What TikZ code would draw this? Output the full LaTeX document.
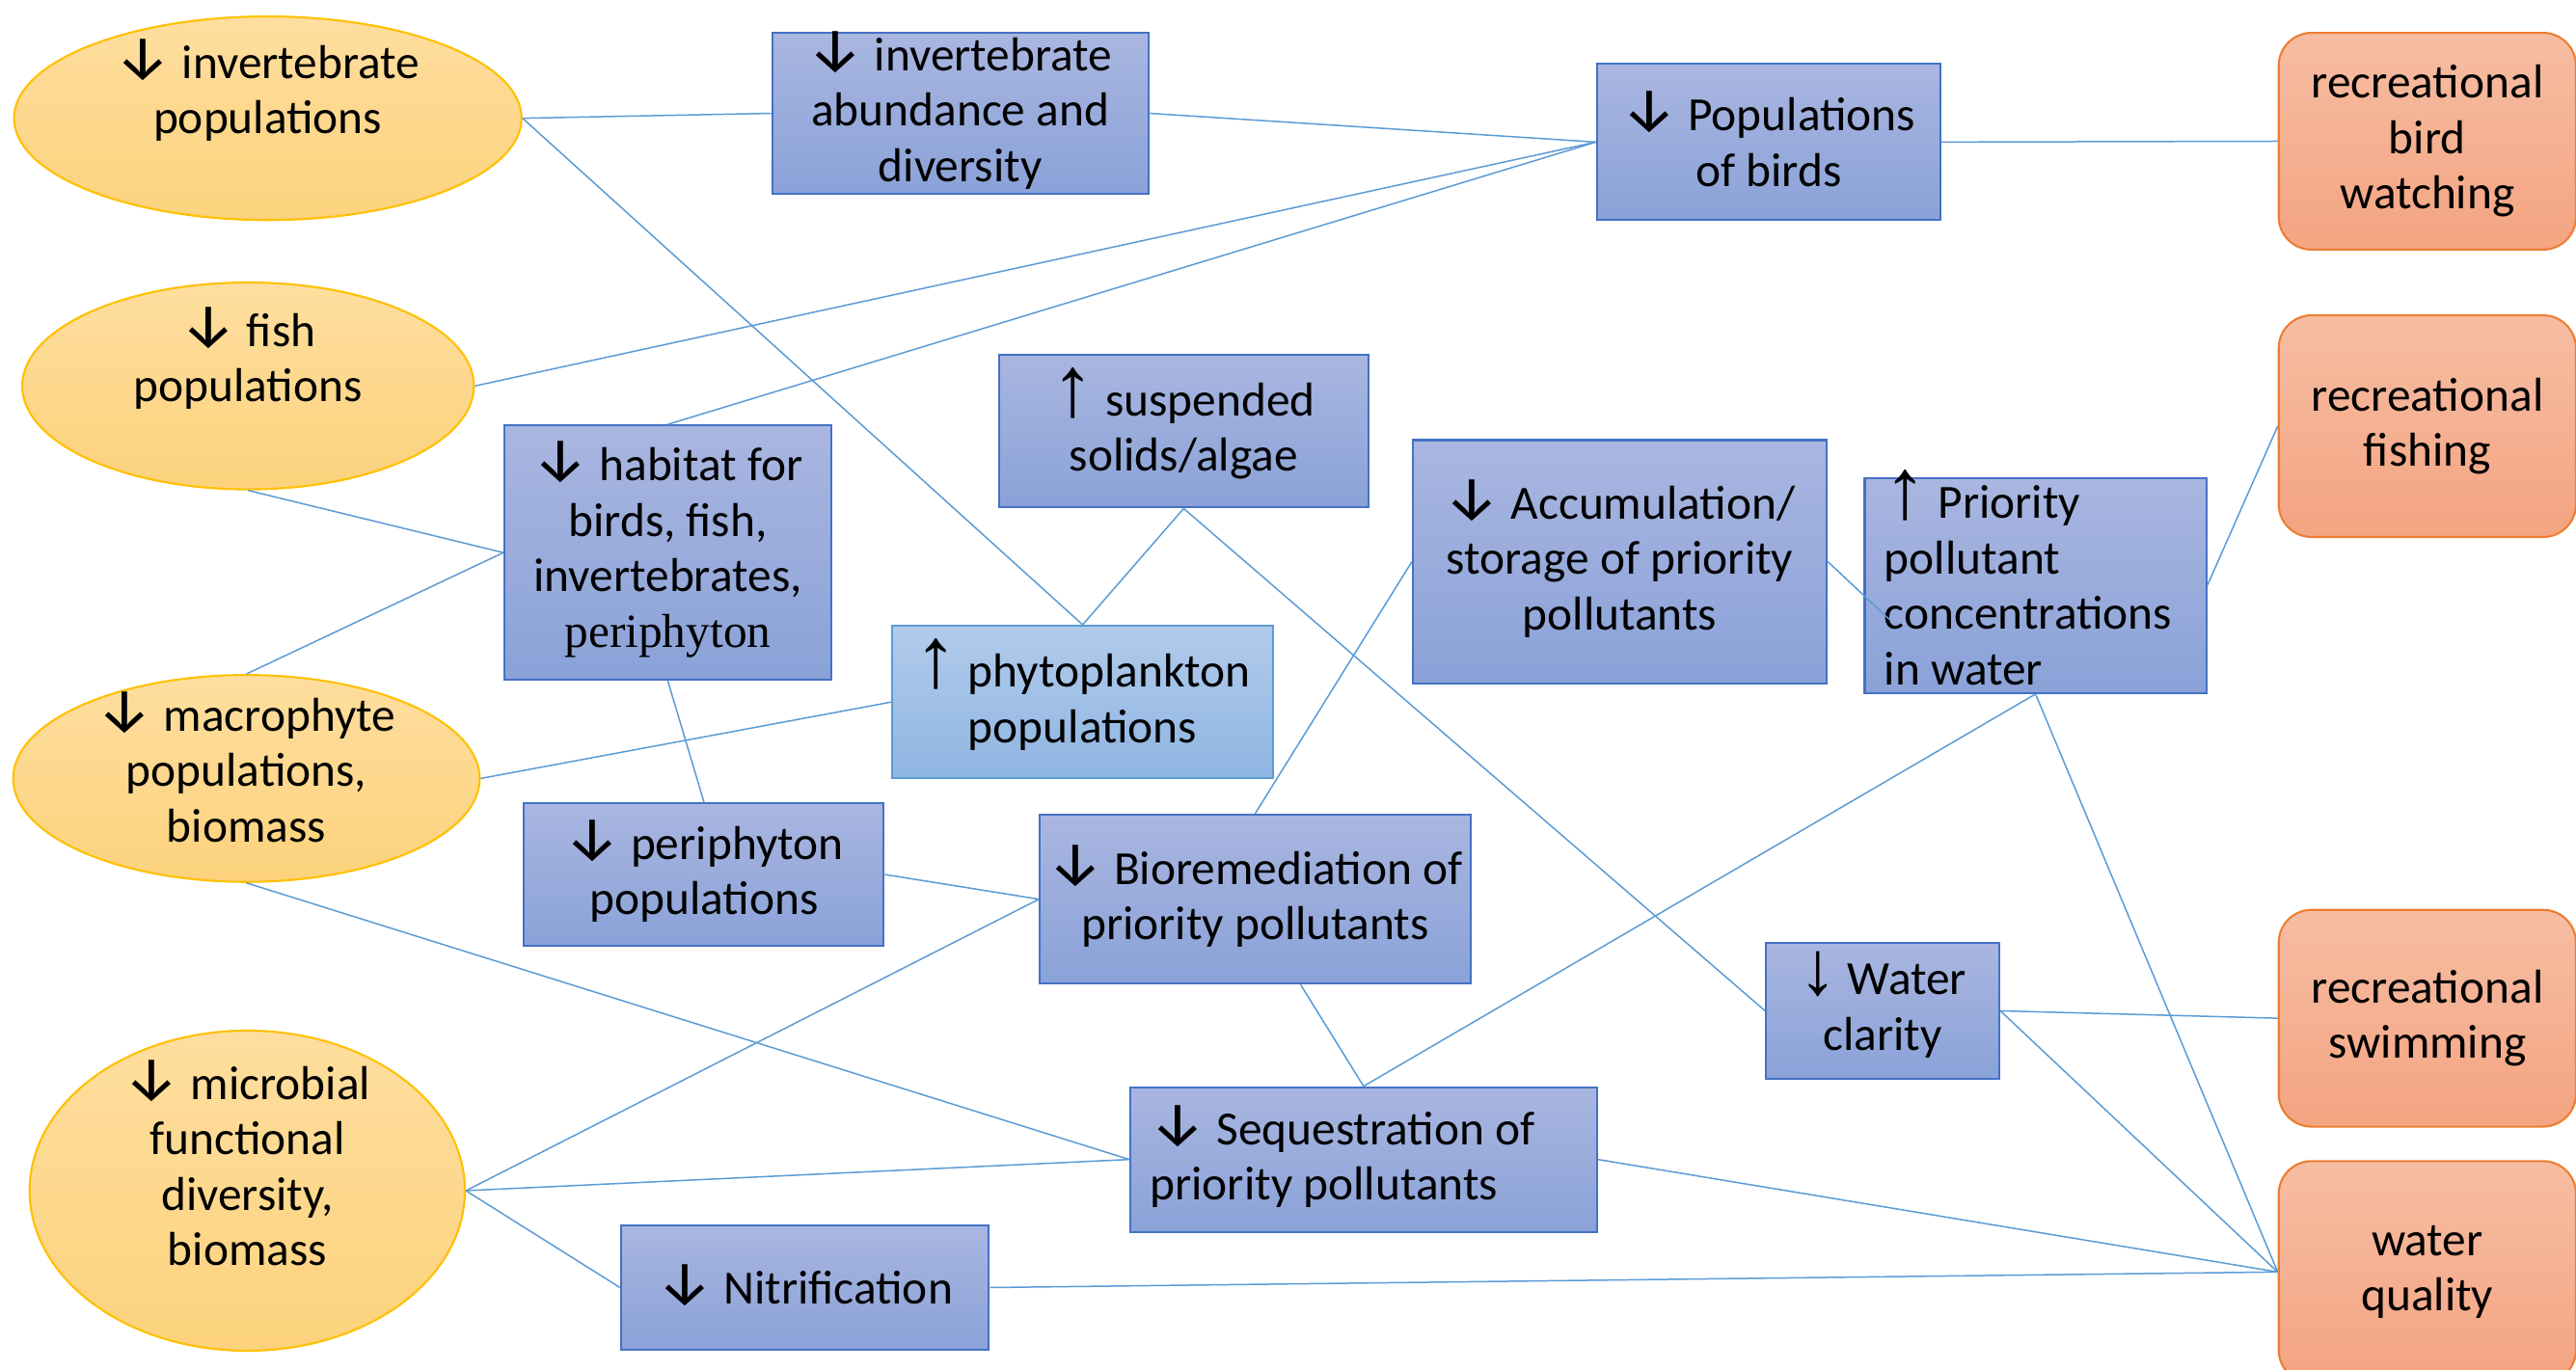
\documentclass[tikz,border=0pt]{standalone}
\usepackage{fontspec}
\setmainfont{Carlito}
\newfontfamily\arrowfont[Scale=1.3]{Fira Sans}
\newfontfamily\thinarrowfont[Scale=1.8]{Liberation Sans}
\newfontfamily\thindnfont[Scale=1.6]{Liberation Serif}
\newfontfamily\timesfont{Liberation Serif}
\usetikzlibrary{positioning,shapes,calc}

\definecolor{popedge}{HTML}{FFC000}
\definecolor{poptop}{HTML}{FEDE9F}
\definecolor{popbot}{HTML}{FCD27C}
\definecolor{boxedge}{HTML}{4472C4}
\definecolor{boxtop}{HTML}{A9B6E0}
\definecolor{boxbot}{HTML}{8AA2D8}
\definecolor{phytoedge}{HTML}{5B9BD5}
\definecolor{phytotop}{HTML}{B1CBEB}
\definecolor{phytobot}{HTML}{8FB5E2}
\definecolor{useedge}{HTML}{ED7D31}
\definecolor{usetop}{HTML}{F6BDA3}
\definecolor{usebot}{HTML}{F4A481}
\definecolor{linkblue}{HTML}{5B9BD5}

\newcommand{\dnarr}{\smash{\arrowfont ↓}}
\newcommand{\uparr}{\smash{\thinarrowfont ↑}}
\newcommand{\waterdn}{\smash{\thindnfont ↓}}

\begin{document}
\begin{tikzpicture}[x=0.02cm,y=-0.02cm]
\tikzstyle{every node}+=[inner sep=0pt,font={\fontsize{16.5}{19.2}\selectfont}]
\tikzstyle{pop}=[ellipse,draw=popedge,line width=0.7pt,top color=poptop,bottom color=popbot]
\tikzstyle{proc}=[rectangle,draw=boxedge,line width=0.7pt,top color=boxtop,bottom color=boxbot,align=center]
\tikzstyle{phyto}=[proc,draw=phytoedge,top color=phytotop,bottom color=phytobot]
\tikzstyle{service}=[rectangle,rounded corners=0.4cm,draw=useedge,line width=0.7pt,top color=usetop,bottom color=usebot,align=center]
\tikzstyle{link}=[draw=linkblue,line width=0.5pt]
\useasboundingbox (0,0) rectangle (1568,834);

% populations (ellipses)
\node[pop,minimum width=6.18cm,minimum height=2.48cm] (inv) at (163,72) {};
\node[align=center] (invtext) at (163,57) {\dnarr{} invertebrate\\populations};
\node[pop,minimum width=5.5cm,minimum height=2.52cm] (fish) at (151,235) {};
\node[align=center] (fishtext) at (151,220) {\dnarr{} fish\\populations};
\node[pop,minimum width=5.68cm,minimum height=2.52cm] (macro) at (150,474) {};
\node[align=center] (macrotext) at (150,469) {\dnarr{} macrophyte\\populations,\\biomass};
\node[pop,minimum width=5.3cm,minimum height=3.9cm] (microb) at (150.5,725) {};
\node[align=center] (microbtext) at (150.5,710) {\dnarr{} microbial\\functional\\diversity,\\biomass};

% processes
\node[proc,minimum width=4.58cm,minimum height=1.96cm] (abund) at (584.5,69) {\dnarr{} invertebrate\\abundance and\\diversity};
\node[proc,minimum width=4.18cm,minimum height=1.9cm] (birds) at (1076.5,86.5) {\dnarr{} Populations\\of birds};
\node[proc,minimum width=3.98cm,minimum height=3.1cm] (habitat) at (406.5,336.5) {\dnarr{} habitat for\\birds, fish,\\invertebrates,\\{\timesfont periphyton}};
\node[proc,minimum width=4.5cm,minimum height=1.86cm] (solids) at (720.5,262.5) {\uparr{} suspended\\solids/algae};
\node[phyto,minimum width=4.64cm,minimum height=1.86cm] (phyto) at (659,427.5) {\uparr{} phytoplankton\\populations};
\node[proc,minimum width=5.04cm,minimum height=2.96cm] (accum) at (986,342) {\dnarr{} Accumulation/\\storage of priority\\pollutants};
\node[proc,minimum width=4.16cm,minimum height=2.62cm,text width=3.68cm,align=flush left] (conc) at (1239,356.5) {\uparr{} Priority\\pollutant\\concentrations\\in water};
\node[proc,minimum width=4.38cm,minimum height=1.74cm] (peri) at (428.5,532.5) {\dnarr{} periphyton\\populations};
\node[proc,minimum width=5.24cm,minimum height=2.06cm] (biorem) at (764,547.5) {\dnarr{} Bioremediation of\\priority pollutants};
\node[proc,minimum width=2.84cm,minimum height=1.66cm] (clarity) at (1146,615.5) {\waterdn{} Water\\clarity};
\node[proc,minimum width=5.68cm,minimum height=1.76cm,text width=5.2cm,align=flush left] (seq) at (830,706) {\dnarr{} Sequestration of\\priority pollutants};
\node[proc,minimum width=4.48cm,minimum height=1.52cm] (nitri) at (490,784) {\dnarr{} Nitrification};

% services
\node[service,minimum width=3.62cm,minimum height=2.64cm] (birding) at (1477.5,86) {recreational\\bird\\watching};
\node[service,minimum width=3.62cm,minimum height=2.7cm] (fishing) at (1477.5,259.5) {recreational\\fishing};
\node[service,minimum width=3.62cm,minimum height=2.64cm] (swimming) at (1477.5,620) {recreational\\swimming};
\node[service,minimum width=3.62cm,minimum height=2.7cm] (quality) at (1477.5,774.5) {water\\quality};

% links
\draw[link] (inv.east) -- (abund.west);
\draw[link] (abund.east) -- (birds.west);
\draw[link] (birds.east) -- (birding.west);
\draw[link] (inv.east) -- (phyto.north);
\draw[link] (fish.east) -- (birds.west);
\draw[link] (habitat.north) -- (birds.west);
\draw[link] (fish.south) -- (habitat.west);
\draw[link] (macro.north) -- (habitat.west);
\draw[link] (habitat.south) -- (peri.north);
\draw[link] (macro.east) -- (phyto.west);
\draw[link] (solids.south) -- (phyto.north);
\draw[link] (solids.south) -- (clarity.west);
\draw[link] (macro.south) -- (seq.west);
\draw[link] (peri.east) -- (biorem.west);
\draw[link] (microb.east) -- (biorem.west);
\draw[link] (microb.east) -- (seq.west);
\draw[link] (microb.east) -- (nitri.west);
\draw[link] (nitri.east) -- (quality.west);
\draw[link] (biorem.north) -- (accum.west);
\draw[link] (biorem.-62) -- (seq.north);
\draw[link] (accum.east) -- ($(conc.west)+(16,21)$);
\draw[link] (conc.east) -- (fishing.west);
\draw[link] (conc.south) -- (seq.north);
\draw[link] (conc.south) -- (quality.west);
\draw[link] (clarity.east) -- (swimming.west);
\draw[link] (clarity.east) -- (quality.west);
\draw[link] (seq.east) -- (quality.west);
\end{tikzpicture}
\end{document}
